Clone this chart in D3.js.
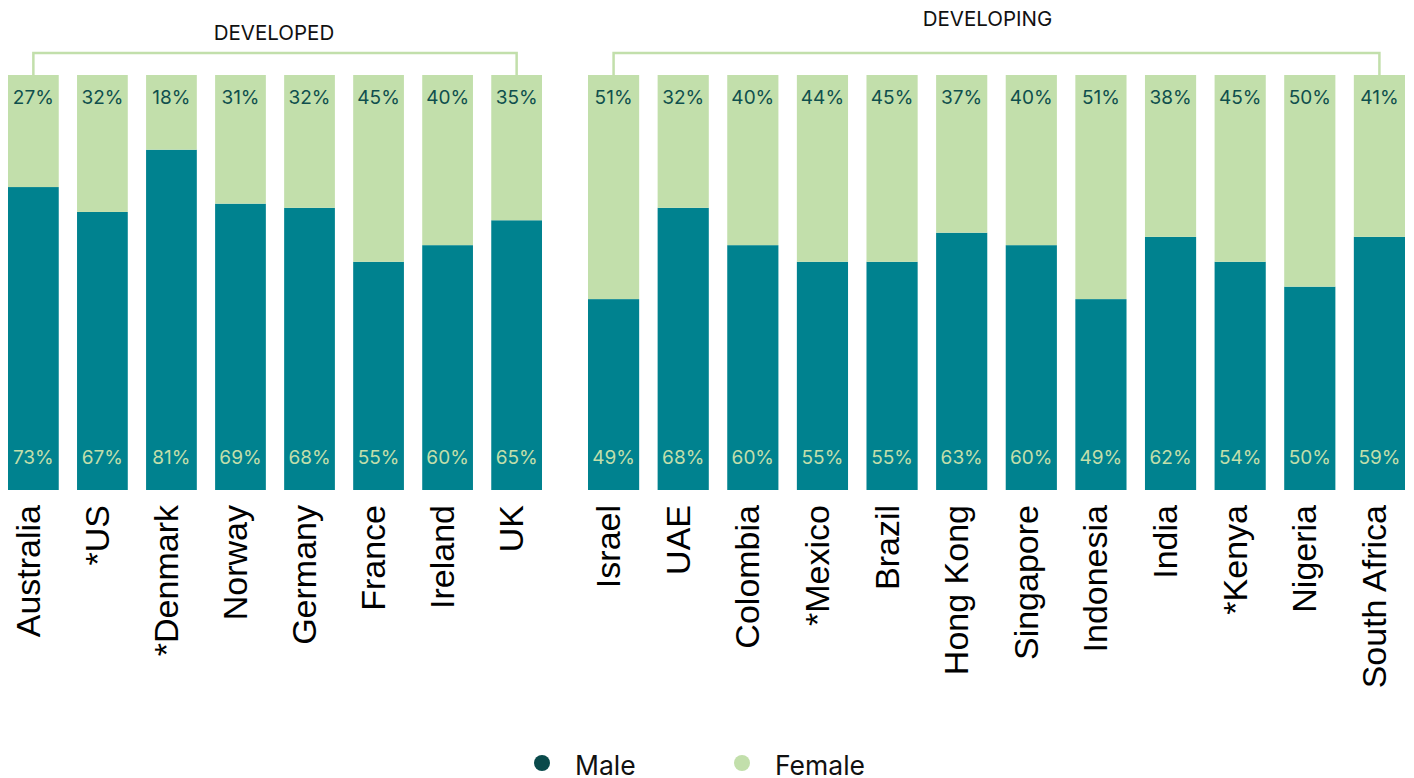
<!DOCTYPE html>
<html>
<head>
<meta charset="utf-8">
<script src="https://cdn.jsdelivr.net/npm/d3@7"></script>
<style>
  body { margin: 0; background: #fff; }
  svg { display: block; }
</style>
</head>
<body>
<div id="chart"></div>
<script>
// groups
const developed = ["Australia", "*US", "*Denmark", "Norway", "Germany", "France", "Ireland", "UK"];
const developedMale = [73, 67, 82, 69, 68, 55, 59, 65];
const developedFemale = [27, 33, 18, 31, 32, 45, 41, 35];
const developedMaleLabels = ["73%", "67%", "81%", "69%", "68%", "55%", "60%", "65%"];
const developedFemaleLabels = ["27%", "32%", "18%", "31%", "32%", "45%", "40%", "35%"];

const developing = ["Israel", "UAE", "Colombia", "*Mexico", "Brazil", "Hong Kong", "Singapore", "Indonesia", "India", "*Kenya", "Nigeria", "South Africa"];
const developingMale = [46, 68, 59, 55, 55, 62, 59, 46, 61, 55, 49, 61];
const developingFemale = [54, 32, 41, 45, 45, 38, 41, 54, 39, 45, 51, 39];
const developingMaleLabels = ["49%", "68%", "60%", "55%", "55%", "63%", "60%", "49%", "62%", "54%", "50%", "59%"];
const developingFemaleLabels = ["51%", "32%", "40%", "44%", "45%", "37%", "40%", "51%", "38%", "45%", "50%", "41%"];

const legendLabels = ["Male", "Female"];

const W = 1414, H = 778;
const maleColor = "#00828f";
const femaleColor = "#c2dfab";

const svg = d3.select("#chart").append("svg")
  .attr("width", W).attr("height", H);

// y scale: share of 100%
const y = d3.scaleLinear().domain([0, 100]).range([490, 75]);

function drawGroup(name, countries, male, female, maleLabels, femaleLabels, range, titleY) {
  const rows = countries.map((c, i) => ({
    country: c, male: male[i], female: female[i],
    maleLabel: maleLabels[i], femaleLabel: femaleLabels[i]
  }));

  const x = d3.scaleBand()
    .domain(countries)
    .range(range)
    .paddingInner(0.265)
    .paddingOuter(0);

  const g = svg.append("g");

  // male bars
  g.selectAll(".male")
    .data(rows)
    .enter().append("rect")
    .attr("x", d => x(d.country))
    .attr("width", x.bandwidth())
    .attr("y", d => y(d.male))
    .attr("height", d => y(0) - y(d.male))
    .attr("fill", maleColor);

  // female bars stacked on top
  g.selectAll(".female")
    .data(rows)
    .enter().append("rect")
    .attr("x", d => x(d.country))
    .attr("width", x.bandwidth())
    .attr("y", d => y(d.male + d.female))
    .attr("height", d => y(d.male) - y(d.male + d.female))
    .attr("fill", femaleColor);

  // labels
  g.selectAll(".flab")
    .data(rows)
    .enter().append("text")
    .attr("x", d => x(d.country) + x.bandwidth() / 2)
    .attr("y", 104)
    .attr("text-anchor", "middle")
    .style("font-family", "Inter, sans-serif")
    .style("font-size", "19px")
    .attr("fill", "#0f4f4d")
    .text(d => d.femaleLabel);

  g.selectAll(".mlab")
    .data(rows)
    .enter().append("text")
    .attr("x", d => x(d.country) + x.bandwidth() / 2)
    .attr("y", 464)
    .attr("text-anchor", "middle")
    .style("font-family", "Inter, sans-serif")
    .style("font-size", "19px")
    .attr("fill", femaleColor)
    .text(d => d.maleLabel);

  // country names, rotated
  g.selectAll(".country")
    .data(rows)
    .enter().append("text")
    .attr("transform", d => `translate(${x(d.country) + x.bandwidth() / 2},505) rotate(-90)`)
    .attr("text-anchor", "end")
    .attr("dy", "0.19em")
    .style("font-family", "'Liberation Sans', Arial, sans-serif")
    .style("font-size", "34px")
    .attr("fill", "#000")
    .text(d => d.country);

  // bracket over the group
  const x0 = x(countries[0]) + x.bandwidth() / 2;
  const x1 = x(countries[countries.length - 1]) + x.bandwidth() / 2;
  g.append("path")
    .attr("d", `M${x0},75V53H${x1}V75`)
    .attr("fill", "none")
    .attr("stroke", femaleColor)
    .attr("stroke-width", 2.5);

  g.append("text")
    .attr("x", (range[0] + range[1]) / 2 + (name === "DEVELOPED" ? -1 : -9))
    .attr("y", titleY)
    .attr("text-anchor", "middle")
    .style("font-family", "Inter, sans-serif")
    .style("font-size", "20.5px")
    .attr("fill", "#111")
    .text(name);
}

drawGroup("DEVELOPED", developed, developedMale, developedFemale,
  developedMaleLabels, developedFemaleLabels, [8, 542], 40);
drawGroup("DEVELOPING", developing, developingMale, developingFemale,
  developingMaleLabels, developingFemaleLabels, [588, 1405], 26);

// legend
const legendColors = ["#0a4a4b", femaleColor];
const legendX = [542, 742];
const lg = svg.append("g");
legendLabels.forEach((l, i) => {
  lg.append("circle")
    .attr("cx", legendX[i]).attr("cy", 763).attr("r", 8)
    .attr("fill", legendColors[i]);
  lg.append("text")
    .attr("x", legendX[i] + 33).attr("y", 775)
    .style("font-family", "Inter, sans-serif")
    .style("font-size", "26.5px")
    .attr("fill", "#111")
    .text(l);
});
</script>
</body>
</html>
